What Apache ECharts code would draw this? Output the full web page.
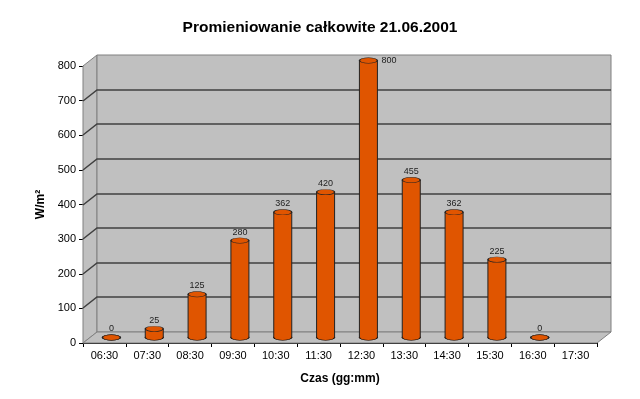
<!DOCTYPE html>
<html>
<head>
<meta charset="utf-8">
<script src="https://cdn.jsdelivr.net/npm/echarts@6/dist/echarts.min.js"></script>
<style>
  html, body {margin: 0; padding: 0; background: #fff;}
  #chart {width: 640px; height: 399px;}
</style>
</head>
<body>
<div id="chart"></div>
<script>
// dane: promieniowanie calkowite, 21.06.2001
const times = ['06:30','07:30','08:30','09:30','10:30','11:30','12:30','13:30','14:30','15:30','16:30','17:30'];
const radiation = [0, 25, 125, 280, 362, 420, 800, 455, 362, 225, 0, null];
const yTicks = [0, 100, 200, 300, 400, 500, 600, 700, 800];

const depthX = 14, depthY = -11;   // przesuniecie tylnej sciany (efekt 3D)
const wallColor = '#c0c0c0';
const barColor = '#e05500';

let myChart = echarts.init(document.getElementById('chart'));

// sciany i siatka 3D
function renderWalls(params, api) {
    const cs = params.coordSys;
    const x = cs.x, y = cs.y, w = cs.width, h = cs.height;
    const children = [];
    children.push({type: 'polygon', shape: {points: [[x, y + h], [x, y], [x + depthX, y + depthY], [x + depthX, y + h + depthY]]},
        style: {fill: wallColor, stroke: '#808080', lineWidth: 1}});
    children.push({type: 'rect', shape: {x: x + depthX, y: y + depthY, width: w, height: h},
        style: {fill: wallColor, stroke: '#808080', lineWidth: 1}});
    children.push({type: 'polygon', shape: {points: [[x, y + h], [x + w, y + h], [x + w + depthX, y + h + depthY], [x + depthX, y + h + depthY]]},
        style: {fill: wallColor, stroke: '#808080', lineWidth: 1}});
    yTicks.forEach(v => {
        if (v === 0 || v === yTicks[yTicks.length - 1]) return;
        const yy = Math.round(api.coord([0, v])[1]);
        children.push({type: 'polyline', shape: {points: [[x, yy], [x + depthX, yy + depthY], [x + w + depthX, yy + depthY]]},
            style: {fill: null, stroke: '#404040', lineWidth: 1.5}});
    });
    return {type: 'group', children: children};
}

// walce
function renderBar(params, api) {
    const val = api.value(1);
    if (val === null || isNaN(val)) return;
    const cs = params.coordSys;
    const base = api.coord([api.value(0), 0]);
    const top = api.coord([api.value(0), val]);
    const cx = base[0] + depthX / 2;
    const by = base[1] + depthY / 2;
    const ty = top[1] + depthY / 2;
    const bw = 18, r = bw / 2, sy = 0.3;
    const children = [
        {type: 'circle', x: cx, y: by, scaleY: sy, shape: {cx: 0, cy: 0, r: r},
            style: {fill: barColor, stroke: '#000', lineWidth: 1.5}},
        {type: 'rect', shape: {x: cx - r, y: ty, width: bw, height: by - ty},
            style: {fill: barColor, stroke: null}},
        {type: 'line', shape: {x1: cx - r, y1: ty, x2: cx - r, y2: by}, style: {stroke: '#222', lineWidth: 1}},
        {type: 'line', shape: {x1: cx + r, y1: ty, x2: cx + r, y2: by}, style: {stroke: '#222', lineWidth: 1}},
        {type: 'circle', x: cx, y: ty, scaleY: sy, shape: {cx: 0, cy: 0, r: r},
            style: {fill: barColor, stroke: '#222', lineWidth: 1.5}}
    ];
    const lbl = String(val);
    if (ty - 12 < cs.y + depthY) {
        children.push({type: 'text', x: cx + r + 4, y: ty,
            style: {text: lbl, fill: '#222', font: '9px "Liberation Sans", Arial', verticalAlign: 'middle', align: 'left'}});
    } else {
        children.push({type: 'text', x: cx, y: ty - 4,
            style: {text: lbl, fill: '#222', font: '9px "Liberation Sans", Arial', verticalAlign: 'bottom', align: 'center'}});
    }
    return {type: 'group', children: children};
}

myChart.setOption({
    animation: false,
    textStyle: {fontFamily: '"Liberation Sans", Arial, sans-serif'},
    title: {
        text: 'Promieniowanie całkowite 21.06.2001',
        left: 'center',
        top: 15,
        textStyle: {fontSize: 15.5, fontWeight: 'bold', color: '#000'}
    },
    grid: {left: 83, right: 43, top: 66, bottom: 56},
    xAxis: {
        type: 'category',
        data: times,
        name: 'Czas (gg:mm)',
        nameLocation: 'middle',
        nameGap: 30,
        nameTextStyle: {fontSize: 12, fontWeight: 'bold', color: '#000'},
        axisLine: {lineStyle: {color: '#000', width: 1}},
        axisTick: {show: true, length: 4, lineStyle: {color: '#000'}},
        axisLabel: {color: '#000', fontSize: 11, margin: 7},
        splitLine: {show: false}
    },
    yAxis: {
        type: 'value',
        min: 0,
        max: 800,
        interval: 100,
        name: 'W/m²',
        nameLocation: 'middle',
        nameRotate: 90,
        nameGap: 33,
        nameTextStyle: {fontSize: 12, fontWeight: 'bold', color: '#000'},
        axisLine: {show: true, lineStyle: {color: '#000', width: 1}},
        axisTick: {show: true, length: 4, lineStyle: {color: '#000'}},
        axisLabel: {color: '#000', fontSize: 11, margin: 7},
        splitLine: {show: false}
    },
    series: [
        {
            type: 'custom',
            name: 'walls',
            silent: true,
            clip: false,
            z: 1,
            renderItem: renderWalls,
            data: [[0, 0]]
        },
        {
            type: 'custom',
            name: 'Promieniowanie',
            clip: false,
            z: 5,
            renderItem: renderBar,
            encode: {x: 0, y: 1},
            data: radiation.map((v, i) => [i, v])
        }
    ]
});
window.addEventListener('resize', () => myChart.resize());
</script>
</body>
</html>
